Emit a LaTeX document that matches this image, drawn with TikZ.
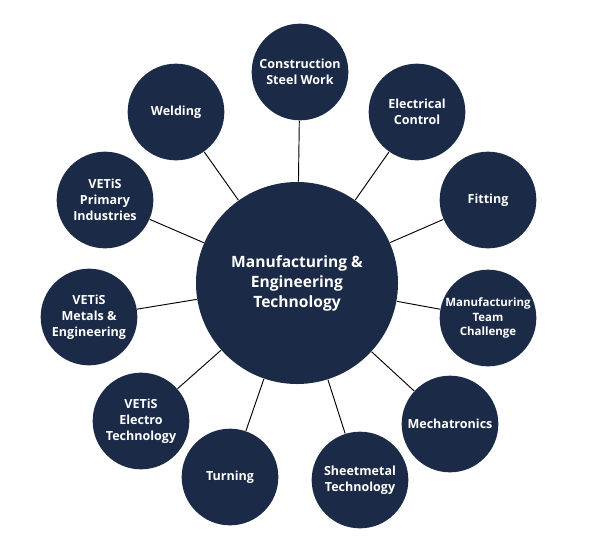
\documentclass[tikz,border=0pt]{standalone}
\usepackage{fontspec}
\setmainfont{Open Sans}
\definecolor{navy}{RGB}{27,42,71}

\begin{document}
\begin{tikzpicture}
  [
    x=0.03cm, y=-0.03cm,
    line width=0.8pt,
    main node/.style={circle, fill=navy, text=white, align=center, inner sep=0pt,
      minimum size=6.06cm, font=\bfseries\fontsize{13.3}{17}\selectfont},
    sub node/.style={circle, fill=navy, text=white, align=center, inner sep=0pt,
      minimum size=2.9cm, font=\bfseries\fontsize{10.7}{13.8}\selectfont}
    ]
  \useasboundingbox (0,0) rectangle (600,557);

  \node[main node] (0) at (297,283) {Manufacturing \&\\Engineering\\Technology};
  \node[sub node] (1) at (300,72) {Construction\\Steel Work};
  \node[sub node] (2) at (417,112) {Electrical\\Control};
  \node[sub node] (3) at (488,200) {Fitting};
  \node[sub node, font=\bfseries\fontsize{9.8}{12.5}\selectfont] (4) at (488,318) {Manufacturing\\Team\\Challenge};
  \node[sub node] (5) at (450,424) {Mechatronics};
  \node[sub node] (6) at (360,480) {Sheetmetal\\Technology};
  \node[sub node] (7) at (230,477) {Turning};
  \node[sub node] (8) at (141,421) {VETiS\\Electro\\Technology};
  \node[sub node] (9) at (89,317) {VETiS\\Metals \&\\Engineering};
  \node[sub node] (10) at (105,200) {VETiS\\Primary\\Industries};
  \node[sub node] (11) at (176,112) {Welding};

  \foreach \n in {1,...,11}
    \draw (0) -- (\n);

\end{tikzpicture}
\end{document}
